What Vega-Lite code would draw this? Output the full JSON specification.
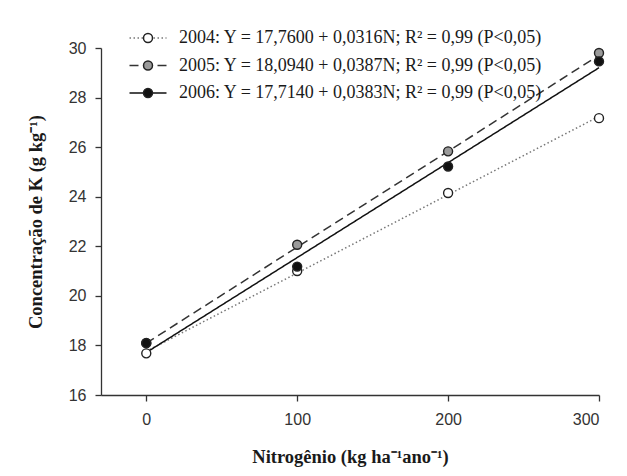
{
  "$schema": "https://vega.github.io/schema/vega-lite/v6.json",
  "width": 498,
  "height": 347,
  "autosize": {"type": "none"},
  "padding": {"left": 101, "top": 48, "right": 28, "bottom": 81},
  "background": "white",
  "config": {
    "view": {"stroke": null},
    "axis": {
      "grid": false,
      "domainColor": "#333",
      "domainWidth": 1.3,
      "tickColor": "#333",
      "tickWidth": 1.3,
      "tickSize": 6,
      "labelFont": "Liberation Sans",
      "labelFontSize": 16,
      "labelColor": "#333",
      "titleFont": "Liberation Serif",
      "titleFontSize": 18.5,
      "titleFontWeight": "bold",
      "titleColor": "#1a1a1a"
    }
  },
  "datasets": {
    "fit": [
      {"N": 0, "K": 17.76, "eq": "2004: Y = 17,7600 + 0,0316N; R² = 0,99 (P<0,05)"},
      {"N": 300, "K": 27.24, "eq": "2004: Y = 17,7600 + 0,0316N; R² = 0,99 (P<0,05)"},
      {"N": 0, "K": 18.094, "eq": "2005: Y = 18,0940 + 0,0387N; R² = 0,99 (P<0,05)"},
      {"N": 300, "K": 29.704, "eq": "2005: Y = 18,0940 + 0,0387N; R² = 0,99 (P<0,05)"},
      {"N": 0, "K": 17.714, "eq": "2006: Y = 17,7140 + 0,0383N; R² = 0,99 (P<0,05)"},
      {"N": 300, "K": 29.204, "eq": "2006: Y = 17,7140 + 0,0383N; R² = 0,99 (P<0,05)"}
    ],
    "pts": [
      {"N": 0, "K": 17.68, "year": "2004"},
      {"N": 100, "K": 21.0, "year": "2004"},
      {"N": 200, "K": 24.15, "year": "2004"},
      {"N": 300, "K": 27.17, "year": "2004"},
      {"N": 0, "K": 18.1, "year": "2005"},
      {"N": 100, "K": 22.06, "year": "2005"},
      {"N": 200, "K": 25.83, "year": "2005"},
      {"N": 300, "K": 29.8, "year": "2005"},
      {"N": 0, "K": 18.09, "year": "2006"},
      {"N": 100, "K": 21.18, "year": "2006"},
      {"N": 200, "K": 25.22, "year": "2006"},
      {"N": 300, "K": 29.46, "year": "2006"}
    ]
  },
  "encoding": {
    "x": {
      "field": "N", "type": "quantitative",
      "scale": {"domain": [-30, 300], "nice": false},
      "axis": {"values": [0, 100, 200, 300], "labelPadding": 10, "titlePadding": 20, "title": "Nitrogênio (kg ha⁻¹ano⁻¹)"}
    },
    "y": {
      "field": "K", "type": "quantitative",
      "scale": {"domain": [16, 30], "nice": false, "zero": false},
      "axis": {"values": [16, 18, 20, 22, 24, 26, 28, 30], "labelPadding": 9, "titlePadding": 23, "title": "Concentração de K (g kg⁻¹)"}
    }
  },
  "layer": [
    {
      "data": {"name": "fit"},
      "mark": {"type": "line", "strokeWidth": 1.5},
      "encoding": {
        "color": {
          "field": "eq", "type": "nominal",
          "scale": {"range": ["#777777", "#333333", "#111111"]},
          "legend": {
            "title": null, "orient": "none", "legendX": 36, "legendY": -21,
            "symbolType": "M-1.85,0L1.85,0", "symbolSize": 400, "symbolStrokeWidth": 1.5,
            "labelFont": "Liberation Serif", "labelFontSize": 18, "labelColor": "#1a1a1a",
            "labelOffset": 20, "rowPadding": 7.5, "padding": 0, "labelLimit": 600
          }
        },
        "strokeDash": {
          "field": "eq", "type": "nominal",
          "scale": {"range": [[1.5, 2.5], [9, 5], [1, 0]]},
          "legend": {
            "title": null, "orient": "none", "legendX": 36, "legendY": -21,
            "symbolType": "M-1.85,0L1.85,0", "symbolSize": 400, "symbolStrokeWidth": 1.5,
            "labelFont": "Liberation Serif", "labelFontSize": 18, "labelColor": "#1a1a1a",
            "labelOffset": 20, "rowPadding": 7.5, "padding": 0, "labelLimit": 600
          }
        }
      }
    },
    {
      "data": {"name": "pts"},
      "mark": {"type": "circle", "size": 81, "stroke": "#222", "strokeWidth": 1.4, "opacity": 1},
      "encoding": {
        "fill": {
          "field": "year", "type": "nominal",
          "scale": {"range": ["#ffffff", "#9a9a9a", "#111111"]},
          "legend": {
            "title": null, "orient": "none", "legendX": 36, "legendY": -21,
            "symbolType": "M0.45,0A0.45,0.45,0,1,1,-0.45,0A0.45,0.45,0,1,1,0.45,0Z",
            "symbolSize": 400, "symbolStrokeWidth": 1.5, "symbolStrokeColor": "#222",
            "labelFont": "Liberation Serif", "labelFontSize": 18, "labelExpr": "''",
            "labelOffset": 20, "rowPadding": 7.5, "padding": 0
          }
        }
      }
    }
  ]
}
